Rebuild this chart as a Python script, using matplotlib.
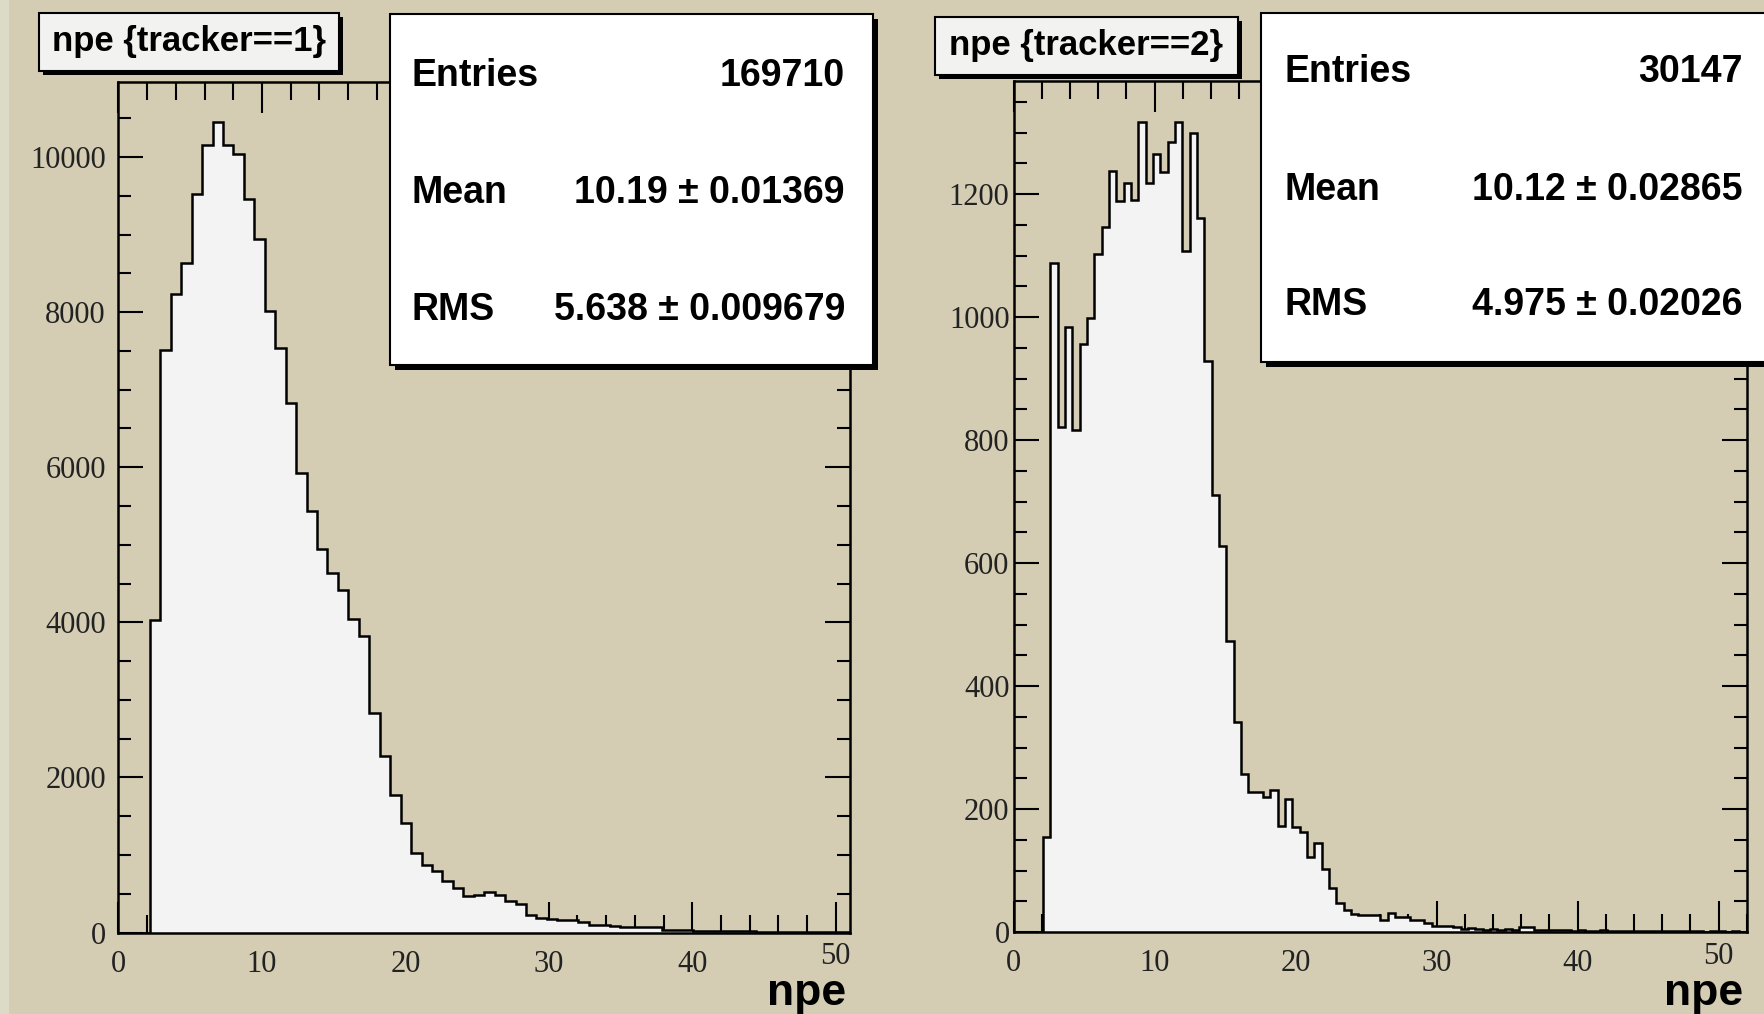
import matplotlib
matplotlib.use("Agg")
import matplotlib.pyplot as plt
from matplotlib.patches import Rectangle
from matplotlib.ticker import MultipleLocator, FuncFormatter
import numpy as np

W, H = 1765, 1014
BG = "#d4cdb3"
FILL = "#f3f3f4"

# histogram contents
left_title = "npe {tracker==1}"
left_range = (0, 51)
left_counts = [0, 0, 0, 4030, 7515, 8230, 8640, 9530, 10160, 10450,
               10160, 10040, 9460, 8950, 8010, 7540, 6830, 5930, 5440, 4940,
               4640, 4420, 4045, 3820, 2830, 2275, 1775, 1410, 1025, 875,
               790, 660, 575, 467, 488, 523, 488, 402, 373, 231,
               189, 175, 167, 167, 140, 103, 103, 90, 73, 73,
               73, 70, 35, 30, 28, 25, 22, 20, 18, 16,
               14, 12, 11, 10, 9, 8, 7, 6, 5, 4]
left_stats = [("Entries", "169710"),
              ("Mean", "10.19 \u00b1 0.01369"),
              ("RMS", "5.638 \u00b1 0.009679")]

right_title = "npe {tracker==2}"
right_range = (0, 52)
right_counts = [0, 0, 0, 0, 155, 1088, 822, 984, 817, 956,
                998, 1103, 1146, 1237, 1188, 1218, 1190, 1317, 1218, 1265,
                1236, 1284, 1318, 1107, 1299, 1161, 928, 710, 627, 474,
                341, 257, 227, 227, 219, 231, 173, 217, 170, 163,
                122, 145, 103, 71, 47, 36, 30, 28, 28, 28,
                19, 31, 24, 24, 19, 19, 14, 10, 10, 10,
                8, 5, 6, 5, 4, 5, 4, 5, 4, 8,
                8, 4, 3, 4, 3, 3, 2, 3, 2, 2,
                3, 2, 2, 1, 2, 2, 1, 2, 1, 1,
                2, 1, 1, 1, 0, 1, 1, 0, 1, 0]
right_stats = [("Entries", "30147"),
               ("Mean", "10.12 \u00b1 0.02865"),
               ("RMS", "4.975 \u00b1 0.02026")]


def fx(px):
    return px / W


def fy(py):
    return 1 - py / H


def fig_box(fig, x0, y0, x1, y1, face, shadow=5, z=5):
    # ROOT style pave with a black drop shadow
    fig.add_artist(Rectangle((fx(x0 + shadow), fy(y1 + shadow)), (x1 - x0) / W, (y1 - y0) / H,
                             transform=fig.transFigure, facecolor="black",
                             edgecolor="none", zorder=z))
    fig.add_artist(Rectangle((fx(x0), fy(y1)), (x1 - x0) / W, (y1 - y0) / H,
                             transform=fig.transFigure, facecolor=face,
                             edgecolor="black", linewidth=1.5, zorder=z + 0.1))


fig = plt.figure(figsize=(W / 100, H / 100), dpi=100, facecolor=BG)
fig.add_artist(Rectangle((0, 0), 9 / W, 1, transform=fig.transFigure,
                         facecolor="#dcdbc6", edgecolor="none", zorder=0.5))

panels = [
    dict(counts=left_counts, rng=left_range, title=left_title, stats=left_stats,
         frame=(118.5, 81.7, 850, 932.5), ymaj=2000, ymin=500, ypad=9,
         tbox=(39, 13, 339, 71), sbox=(390, 14, 873, 365),
         sx=(412, 845), sy=(76, 193, 310)),
    dict(counts=right_counts, rng=right_range, title=right_title, stats=right_stats,
         frame=(1013.7, 81, 1746.7, 932), ymaj=200, ymin=50, ypad=3,
         tbox=(935, 17, 1238, 75), sbox=(1261, 13, 1800, 362),
         sx=(1285, 1743), sy=(72, 190, 305)),
]

for p in panels:
    x0, y0, x1, y1 = p["frame"]
    ax = fig.add_axes([fx(x0), fy(y1), (x1 - x0) / W, (y1 - y0) / H])
    ax.set_facecolor(BG)
    counts = np.array(p["counts"], dtype=float)
    edges = np.linspace(p["rng"][0], p["rng"][1], len(counts) + 1)
    ax.stairs(counts, edges, fill=True, color=FILL, zorder=2)
    ax.stairs(counts, edges, baseline=0, color="black", linewidth=1.8, zorder=3)
    ax.set_xlim(p["rng"])
    ax.set_ylim(0, counts.max() * 1.05)

    for s in ax.spines.values():
        s.set_linewidth(1.8)
        s.set_zorder(4)
    ax.xaxis.set_major_locator(MultipleLocator(10))
    ax.xaxis.set_minor_locator(MultipleLocator(2))
    ax.yaxis.set_major_locator(MultipleLocator(p["ymaj"]))
    ax.yaxis.set_minor_locator(MultipleLocator(p["ymin"]))
    # ROOT lifts the last x label a little; draw it separately
    ax.xaxis.set_major_formatter(FuncFormatter(lambda v, _: "" if v >= 50 else f"{v:.0f}"))
    ax.tick_params(which="both", direction="in", top=True, right=True,
                   width=1.5, color="black", labelsize=22, labelcolor="#222222")
    ax.tick_params(axis="x", which="major", length=22, pad=12.5)
    ax.tick_params(axis="x", which="minor", length=13)
    ax.tick_params(axis="y", which="major", length=18, pad=p["ypad"])
    ax.tick_params(axis="y", which="minor", length=9.5)
    for lab in ax.get_xticklabels() + ax.get_yticklabels():
        lab.set_fontfamily("Liberation Serif")
    ax.annotate("50", xy=(50, 0), xycoords=("data", "axes fraction"),
                xytext=(0, -7), textcoords="offset points", ha="center", va="top",
                fontsize=22, color="#222222", family="Liberation Serif",
                annotation_clip=False)

    fig.text(fx(x1 - 4), fy(994), "npe", ha="right", va="center",
             fontsize=32, fontweight="bold", family="Liberation Sans", zorder=6)

    # title pave
    tx0, ty0, tx1, ty1 = p["tbox"]
    fig_box(fig, tx0, ty0, tx1, ty1, "#f2f2f0", shadow=4)
    fig.text(fx((tx0 + tx1) / 2), fy((ty0 + ty1) / 2), p["title"], ha="center",
             va="center", fontsize=25, fontweight="bold",
             family="Liberation Sans", zorder=6)

    # stats pave
    bx0, by0, bx1, by1 = p["sbox"]
    fig_box(fig, bx0, by0, bx1, by1, "white", shadow=5)
    for (name, val), yy in zip(p["stats"], p["sy"]):
        fig.text(fx(p["sx"][0]), fy(yy), name, ha="left", va="center",
                 fontsize=27, fontweight="bold", family="Liberation Sans", zorder=6)
        fig.text(fx(p["sx"][1]), fy(yy), val, ha="right", va="center",
                 fontsize=27, fontweight="bold", family="Liberation Sans", zorder=6)

fig.savefig("out.png", dpi=100, facecolor=BG)
